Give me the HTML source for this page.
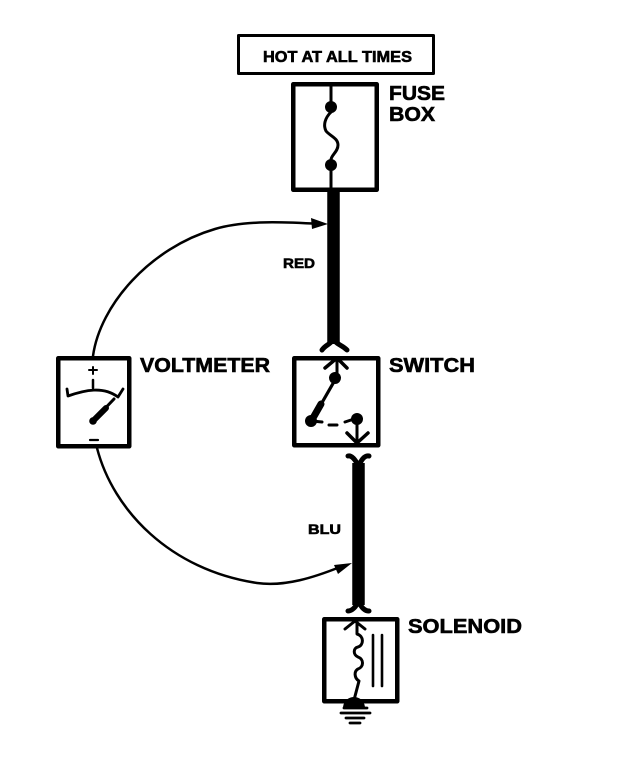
<!DOCTYPE html>
<html>
<head>
<meta charset="utf-8">
<style>
html,body{margin:0;padding:0;background:#fff;}
svg{display:block;}
text{font-family:"Liberation Sans",sans-serif;font-weight:bold;fill:#000;stroke:#000;stroke-width:.6;}
</style>
</head>
<body>
<svg width="624" height="764" viewBox="0 0 624 764" xmlns="http://www.w3.org/2000/svg">
<g fill="none" stroke="#000" stroke-linecap="round" stroke-linejoin="round">
  <!-- top label -->
  <rect x="238.5" y="35.5" width="195" height="38" stroke-width="3"/>
  <!-- boxes -->
  <rect x="293.25" y="84.25" width="83.5" height="105.5" stroke-width="4.5"/>
  <rect x="58.25" y="358.25" width="71" height="88" stroke-width="4.5"/>
  <rect x="294.25" y="358.25" width="84" height="87" stroke-width="4.5"/>
  <rect x="324.25" y="619.25" width="73" height="82" stroke-width="4.5"/>

  <!-- fuse internals -->
  <path d="M331 84V112M331 160V192" stroke-width="3"/>
  <path d="M331 112C325 118 323 125 326 131C330 136 338 138 338 145C338 152 331 155 331 160" stroke-width="3"/>

  <!-- thick wires -->
  <path d="M333.5 190V344" stroke-width="12.5" stroke-linecap="butt"/>
  <path d="M358.5 463V605" stroke-width="12.5" stroke-linecap="butt"/>

  <!-- connector Y shapes -->
  <path d="M322 350C326 344 331 345 333.5 338C336 345 341 344 347 350" stroke-width="5"/>
  <path d="M348 456C352 455 356 461 358.5 466C361 461 364 455 369 456" stroke-width="5"/>
  <path d="M348 611C352 611 356 607 358.5 601C361 607 364 611 369 611" stroke-width="5"/>

  <!-- voltmeter leads -->
  <path d="M93 356C100 305 150 248 215 229C245 220 285 222 320 224" stroke-width="2.5"/>
  <path d="M97 448C113 510 170 570 257 583C285 587 315 577 340 567" stroke-width="2.5"/>

  <!-- voltmeter dial -->
  <path d="M67 389L68 396C85 390 103 386 118 397L123 389" stroke-width="2.8"/>
  <path d="M93 380V388" stroke-width="2.5"/>
  <path d="M89 370H97M93 367V374" stroke-width="2"/>
  <path d="M90 440H98" stroke-width="2.2"/>
  <path d="M93 421L114 399" stroke-width="3"/>
  <path d="M93 421L106 408" stroke-width="6"/>

  <!-- switch internals -->
  <path d="M337 360V378" stroke-width="3"/>
  <path d="M325 368L337 358L347 368" stroke-width="3.5"/>
  <path d="M335 380L312 420" stroke-width="3.2"/>
  <path d="M321 404L313 418" stroke-width="7"/>
  <path d="M312 421L322 422M329 425H337M345 422L357 418" stroke-width="3"/>
  <path d="M357 418V442" stroke-width="3"/>
  <path d="M347 433L357 443L368 433" stroke-width="3.5"/>

  <!-- solenoid internals -->
  <path d="M355 621L345 629M355 621L365 629" stroke-width="3"/>
  <path d="M357 621V634C364 636 364 645 358 647C353 648 353 655 358 657C364 659 364 667 358 669C354 671 354 678 359 681L354 700" stroke-width="3"/>
  <path d="M373 635V686M382 635V686" stroke-width="2.6"/>

  <!-- ground -->
  <path d="M344 708H367" stroke-width="2.8"/>
  <path d="M341 713H370" stroke-width="2.8"/>
  <path d="M346 718H364" stroke-width="2.8"/>
  <path d="M350 723H360" stroke-width="2.8"/>
</g>
<g fill="#000">
  <circle cx="331" cy="107" r="6"/>
  <circle cx="331" cy="165" r="6"/>
  <polygon points="311,218 328,224 312,229"/>
  <polygon points="334,565 352,563 338,574"/>
  <circle cx="335" cy="378" r="6"/>
  <circle cx="311" cy="421" r="6"/>
  <circle cx="357" cy="419" r="6"/>
  <circle cx="93" cy="421" r="3.8"/>
  <path d="M343 707C344 700 349 697 354 697C359 697 364 700 365 707Z"/>
</g>

<text x="263" y="62" font-size="16" textLength="149" lengthAdjust="spacingAndGlyphs">HOT AT ALL TIMES</text>
<text x="389" y="100" font-size="20" textLength="56" lengthAdjust="spacingAndGlyphs">FUSE</text>
<text x="389" y="121" font-size="20" textLength="46" lengthAdjust="spacingAndGlyphs">BOX</text>
<text x="140" y="372" font-size="20" textLength="130" lengthAdjust="spacingAndGlyphs">VOLTMETER</text>
<text x="389" y="372" font-size="20" textLength="86" lengthAdjust="spacingAndGlyphs">SWITCH</text>
<text x="408" y="633" font-size="20" textLength="114" lengthAdjust="spacingAndGlyphs">SOLENOID</text>
<text x="283" y="268" font-size="14" textLength="32" lengthAdjust="spacingAndGlyphs">RED</text>
<text x="308" y="534" font-size="14" textLength="33" lengthAdjust="spacingAndGlyphs">BLU</text>
</svg>
</body>
</html>
